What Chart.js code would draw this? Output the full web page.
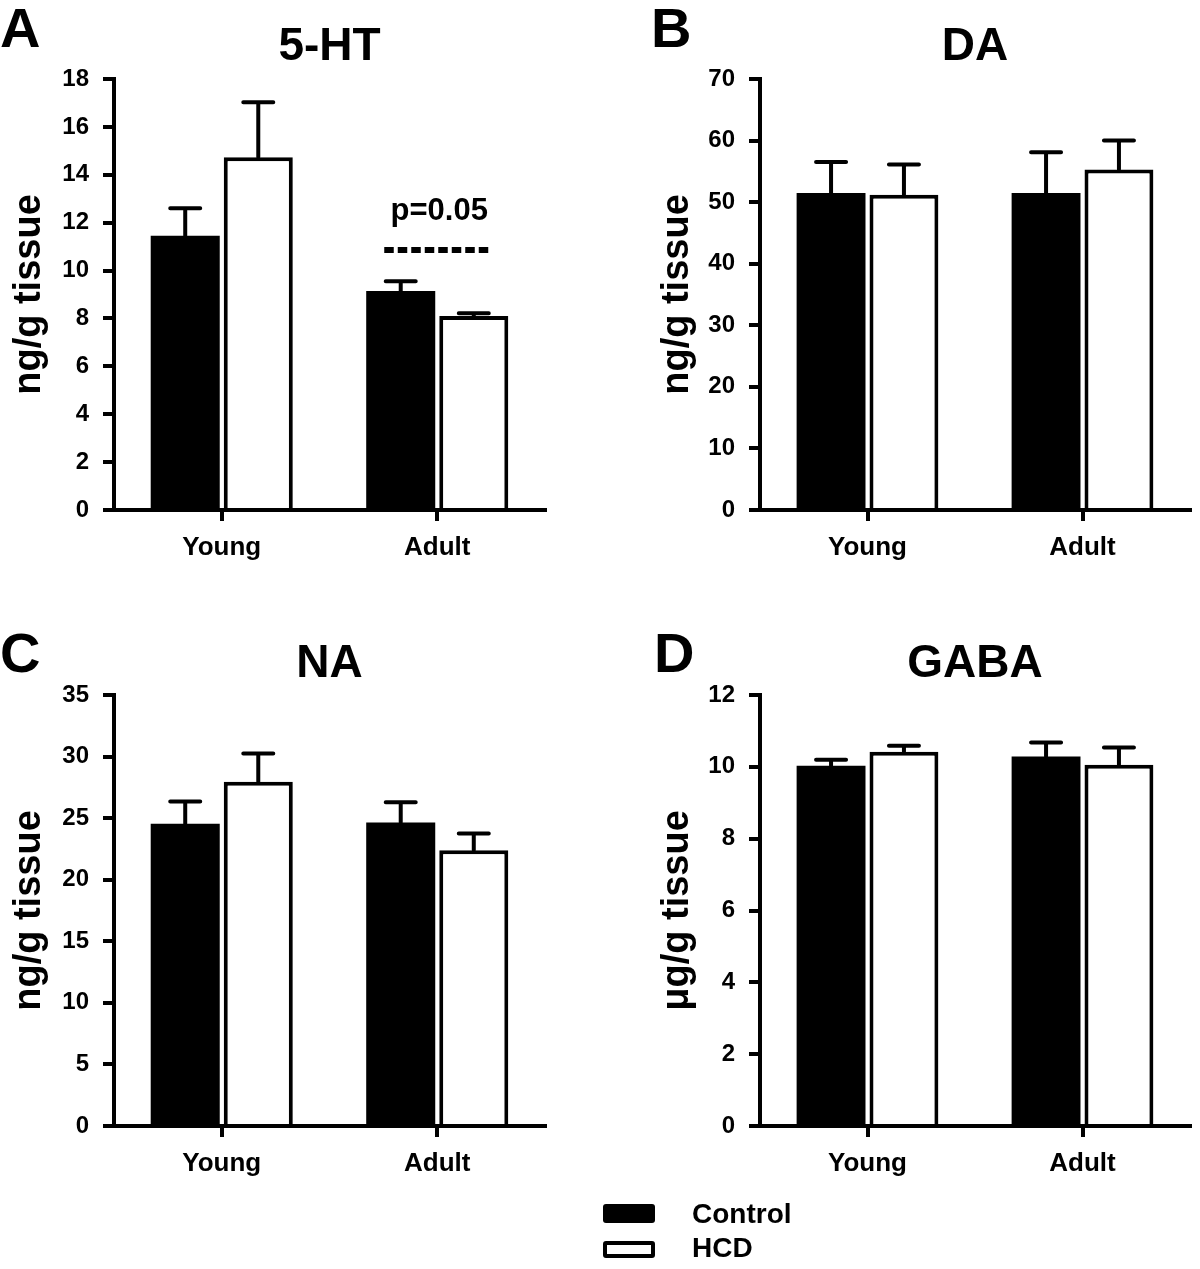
<!DOCTYPE html>
<html>
<head>
<meta charset="utf-8">
<title>5-HT, DA, NA, GABA</title>
<script src="https://cdn.jsdelivr.net/npm/chart.js@4/dist/chart.umd.min.js"></script>
<style>
  body { margin: 0; background: #fff; }
  #fig { position: relative; width: 1200px; height: 1269px; overflow: hidden; background: #fff; }
  .panel { position: absolute; width: 600px; height: 600px; }
  .key { position: absolute; left: 603px; width: 52px; box-sizing: border-box; border-radius: 3px; }
  .keytext { position: absolute; left: 692px; font: bold 28px/28px "Liberation Sans", Arial, sans-serif; color: #000; }
</style>
</head>
<body>
<div id="fig">
  <div class="panel" style="left:0;top:0"><canvas id="chartA" width="600" height="600"></canvas></div>
  <div class="panel" style="left:600px;top:0"><canvas id="chartB" width="600" height="600"></canvas></div>
  <div class="panel" style="left:0;top:616px"><canvas id="chartC" width="600" height="600"></canvas></div>
  <div class="panel" style="left:600px;top:616px"><canvas id="chartD" width="600" height="600"></canvas></div>

  <!-- legend -->
  <div class="key" style="top:1204px;height:19px;background:#000"></div>
  <div class="keytext" style="top:1200px">Control</div>
  <div class="key" style="top:1241px;height:17px;background:#fff;border:4px solid #000"></div>
  <div class="keytext" style="top:1234px">HCD</div>
</div>

<script>
// data (mean and upper error bar length)
const groups = ["Young", "Adult"];
const seriesNames = ["Control", "HCD"];

// 5-HT, ng/g tissue
const htControl = [11.45, 9.15];
const htControlErr = [1.15, 0.4];
const htHcd = [14.73, 8.1];
const htHcdErr = [2.3, 0.12];
const htTicks = [0, 2, 4, 6, 8, 10, 12, 14, 16, 18];

// DA, ng/g tissue
const daControl = [51.5, 51.5];
const daControlErr = [5.0, 6.6];
const daHcd = [51.2, 55.3];
const daHcdErr = [4.9, 4.7];
const daTicks = [0, 10, 20, 30, 40, 50, 60, 70];

// NA, ng/g tissue
const naControl = [24.55, 24.65];
const naControlErr = [1.8, 1.65];
const naHcd = [27.95, 22.4];
const naHcdErr = [2.3, 1.35];
const naTicks = [0, 5, 10, 15, 20, 25, 30, 35];

// GABA, µg/g tissue
const gabaControl = [10.03, 10.29];
const gabaControlErr = [0.17, 0.39];
const gabaHcd = [10.42, 10.06];
const gabaHcdErr = [0.17, 0.48];
const gabaTicks = [0, 2, 4, 6, 8, 10, 12];

// the dashed p-value mark over the adult 5-HT bars
const htSigText = "p=0.05";
const htSigGroup = 1;
const htSigLine = 10.86;
const htSigLabel = 12.1;

const FONT = "'Liberation Sans', Arial, Helvetica, sans-serif";
Chart.defaults.font.family = FONT;
Chart.defaults.font.weight = "bold";
Chart.defaults.color = "#000";

// upper error bars on top of each bar
const errorBars = {
  id: "errorBars",
  afterDatasetsDraw(chart) {
    const { ctx } = chart;
    const y = chart.scales.y;
    ctx.save();
    ctx.strokeStyle = "#000";
    ctx.lineWidth = 4;
    ctx.lineCap = "round";
    chart.data.datasets.forEach((ds, i) => {
      chart.getDatasetMeta(i).data.forEach((bar, j) => {
        const top = y.getPixelForValue(ds.data[j] + ds.err[j]);
        ctx.beginPath();
        ctx.moveTo(bar.x, bar.y);
        ctx.lineTo(bar.x, top);
        ctx.moveTo(bar.x - 15, top);
        ctx.lineTo(bar.x + 15, top);
        ctx.stroke();
      });
    });
    ctx.restore();
  }
};

// panel letter and title
const panelText = {
  id: "panelText",
  afterDraw(chart, args, opts) {
    const { ctx, chartArea } = chart;
    ctx.save();
    ctx.fillStyle = "#000";
    ctx.textBaseline = "alphabetic";
    ctx.textAlign = "left";
    ctx.font = "bold 56px " + FONT;
    ctx.fillText(opts.letter, opts.letterX, opts.letterY);
    ctx.textAlign = "center";
    ctx.font = "bold 46px " + FONT;
    ctx.fillText(opts.title, (chartArea.left + chartArea.right) / 2, opts.titleY);
    ctx.restore();
  }
};

// dashed line + p value
const sigMark = {
  id: "sigMark",
  afterDatasetsDraw(chart, args, opts) {
    if (!opts.text) return;
    const { ctx } = chart;
    const { x, y } = chart.scales;
    const cx = x.getPixelForValue(opts.group);
    const ly = y.getPixelForValue(opts.line);
    ctx.save();
    ctx.strokeStyle = "#000";
    ctx.lineWidth = 6;
    ctx.setLineDash([9.5, 4]);
    ctx.beginPath();
    ctx.moveTo(cx - 53, ly);
    ctx.lineTo(cx + 51, ly);
    ctx.stroke();
    ctx.setLineDash([]);
    ctx.fillStyle = "#000";
    ctx.font = "bold 31px " + FONT;
    ctx.textAlign = "center";
    ctx.textBaseline = "alphabetic";
    ctx.fillText(opts.text, cx + 2, y.getPixelForValue(opts.label));
    ctx.restore();
  }
};

function drawPanel(id, p) {
  return new Chart(document.getElementById(id), {
    type: "bar",
    data: {
      labels: groups,
      datasets: [
        { label: seriesNames[0], data: p.control, err: p.controlErr,
          backgroundColor: "#000", borderColor: "#000", borderWidth: 0 },
        { label: seriesNames[1], data: p.hcd, err: p.hcdErr,
          backgroundColor: "#fff", borderColor: "#000", borderWidth: 4 }
      ]
    },
    options: {
      responsive: false,
      animation: false,
      events: [],
      layout: { padding: { left: p.padLeft, right: p.padRight, top: 79, bottom: 0 } },
      datasets: { bar: { categoryPercentage: 0.678, barPercentage: 0.945, borderSkipped: "start" } },
      plugins: {
        legend: { display: false },
        tooltip: { enabled: false },
        panelText: { letter: p.letter, letterX: p.letterX, letterY: p.letterY, title: p.title, titleY: p.titleY },
        sigMark: p.sig || {}
      },
      scales: {
        x: {
          offset: true,
          z: 1,
          grid: { offset: false, drawOnChartArea: false, color: "#000", lineWidth: 4, tickLength: 11 },
          border: { color: "#000", width: 4 },
          ticks: { font: { size: 26 }, padding: 11 },
          afterFit: (s) => { s.height = 90; }
        },
        y: {
          min: 0,
          max: p.ticks[p.ticks.length - 1],
          afterBuildTicks: (s) => { s.ticks = p.ticks.map((v) => ({ value: v })); },
          grid: { drawOnChartArea: false, color: "#000", lineWidth: 4, tickLength: 11 },
          border: { color: "#000", width: 4 },
          ticks: { font: { size: 24 }, padding: 14, autoSkip: false },
          title: { display: true, text: p.yTitle, font: { size: 38 }, padding: { top: 7, bottom: 0 } },
          afterFit: (s) => { s.width = p.axisWidth; }
        }
      }
    },
    plugins: [errorBars, panelText, sigMark]
  });
}

drawPanel("chartA", {
  control: htControl, controlErr: htControlErr, hcd: htHcd, hcdErr: htHcdErr,
  ticks: htTicks, yTitle: "ng/g tissue", title: "5-HT",
  letter: "A", letterX: 0, letterY: 47, titleY: 60,
  padLeft: 0, padRight: 55, axisWidth: 114,
  sig: { text: htSigText, group: htSigGroup, line: htSigLine, label: htSigLabel }
});

drawPanel("chartB", {
  control: daControl, controlErr: daControlErr, hcd: daHcd, hcdErr: daHcdErr,
  ticks: daTicks, yTitle: "ng/g tissue", title: "DA",
  letter: "B", letterX: 51, letterY: 47, titleY: 60,
  padLeft: 48, padRight: 10, axisWidth: 112
});

drawPanel("chartC", {
  control: naControl, controlErr: naControlErr, hcd: naHcd, hcdErr: naHcdErr,
  ticks: naTicks, yTitle: "ng/g tissue", title: "NA",
  letter: "C", letterX: 0, letterY: 56, titleY: 61,
  padLeft: 0, padRight: 55, axisWidth: 114
});

drawPanel("chartD", {
  control: gabaControl, controlErr: gabaControlErr, hcd: gabaHcd, hcdErr: gabaHcdErr,
  ticks: gabaTicks, yTitle: "\u03bcg/g tissue", title: "GABA",
  letter: "D", letterX: 54, letterY: 56, titleY: 61,
  padLeft: 48, padRight: 10, axisWidth: 112
});
</script>
</body>
</html>
